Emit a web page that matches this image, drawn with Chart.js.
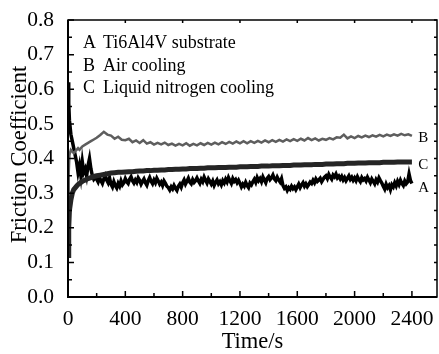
<!DOCTYPE html>
<html>
<head>
<meta charset="utf-8">
<script src="https://cdn.jsdelivr.net/npm/chart.js@4.4.1/dist/chart.umd.min.js"></script>
<style>
  html, body { margin: 0; padding: 0; background: #fff; }
  #wrap { width: 439px; height: 354px; position: relative; }
</style>
</head>
<body>
<div id="wrap"><canvas id="friction-chart" width="439" height="354"></canvas></div>
<script>
// sample times (s) for curves B and C
const time = [
  0, 5, 10, 20, 30, 40, 50, 60, 70, 80, 90, 100, 120, 140, 160, 180, 200,
  225, 250, 275, 300, 325, 350, 375, 400, 425, 450, 475, 500, 525, 550, 575, 600,
  625, 650, 675, 700, 725, 750, 775, 800, 825, 850, 875, 900, 925, 950, 975, 1000,
  1025, 1050, 1075, 1100, 1125, 1150, 1175, 1200, 1225, 1250, 1275, 1300, 1325, 1350, 1375, 1400,
  1425, 1450, 1475, 1500, 1525, 1550, 1575, 1600, 1625, 1650, 1675, 1700, 1725, 1750, 1775, 1800,
  1825, 1850, 1875, 1900, 1925, 1950, 1975, 2000, 2025, 2050, 2075, 2100, 2125, 2150, 2175, 2200,
  2225, 2250, 2275, 2300, 2325, 2350, 2375, 2400
];

// curve A is sampled finer: early points, then every 10 s from 200 s
const timeAStart = [0, 5, 10, 20, 30, 40, 50, 60, 70, 80, 90, 100, 110, 120, 130, 140, 150, 160, 170, 180, 190];
const substrateStart = [0.62, 0.56, 0.51, 0.47, 0.45, 0.43, 0.41, 0.39, 0.36, 0.38, 0.35, 0.39, 0.36, 0.37, 0.35, 0.38, 0.40, 0.37, 0.35, 0.34, 0.345];

// A  Ti6Al4V substrate, 200 s .. 2400 s, one row per 100 s
const substrate = [
  0.340, 0.332, 0.345, 0.336, 0.328, 0.341, 0.350, 0.338, 0.330, 0.344,
  0.326, 0.318, 0.333, 0.322, 0.315, 0.328, 0.320, 0.335, 0.324, 0.330,
  0.342, 0.333, 0.328, 0.340, 0.347, 0.336, 0.329, 0.338, 0.331, 0.344,
  0.337, 0.326, 0.334, 0.341, 0.330, 0.323, 0.336, 0.345, 0.334, 0.327,
  0.338, 0.330, 0.343, 0.335, 0.326, 0.332, 0.322, 0.335, 0.328, 0.320,
  0.316, 0.309, 0.318, 0.312, 0.322, 0.314, 0.308, 0.320, 0.326, 0.317,
  0.330, 0.338, 0.326, 0.334, 0.343, 0.332, 0.327, 0.339, 0.331, 0.336,
  0.344, 0.335, 0.328, 0.340, 0.333, 0.346, 0.337, 0.329, 0.341, 0.334,
  0.326, 0.335, 0.322, 0.331, 0.338, 0.327, 0.333, 0.324, 0.336, 0.329,
  0.340, 0.332, 0.345, 0.336, 0.328, 0.342, 0.334, 0.339, 0.330, 0.337,
  0.328, 0.318, 0.326, 0.320, 0.331, 0.322, 0.316, 0.329, 0.324, 0.333,
  0.340, 0.331, 0.345, 0.336, 0.342, 0.333, 0.347, 0.338, 0.330, 0.343,
  0.348, 0.339, 0.344, 0.352, 0.341, 0.336, 0.346, 0.338, 0.332, 0.342,
  0.322, 0.314, 0.318, 0.308, 0.316, 0.311, 0.320, 0.313, 0.318, 0.310,
  0.318, 0.326, 0.316, 0.324, 0.330, 0.320, 0.327, 0.319, 0.325, 0.332,
  0.328, 0.337, 0.330, 0.341, 0.334, 0.338, 0.343, 0.333, 0.340, 0.346,
  0.350, 0.342, 0.354, 0.346, 0.340, 0.352, 0.347, 0.355, 0.344, 0.349,
  0.341, 0.348, 0.338, 0.345, 0.336, 0.343, 0.350, 0.340, 0.346, 0.337,
  0.344, 0.336, 0.347, 0.339, 0.333, 0.345, 0.338, 0.342, 0.335, 0.346,
  0.338, 0.330, 0.341, 0.334, 0.327, 0.339, 0.332, 0.344, 0.336, 0.329,
  0.320, 0.312, 0.326, 0.316, 0.322, 0.310, 0.324, 0.318, 0.330, 0.321,
  0.334, 0.325, 0.337, 0.328, 0.322, 0.335, 0.327, 0.332, 0.355, 0.336,
  0.328
];

// B  Air cooling
const airCooling = [
  0.28, 0.36, 0.41, 0.425, 0.42, 0.415, 0.42, 0.425, 0.43, 0.425, 0.43, 0.435, 0.44, 0.445, 0.45, 0.455, 0.46,
  0.468, 0.477, 0.469, 0.466, 0.457, 0.463, 0.454, 0.453, 0.457, 0.447, 0.452, 0.445, 0.453, 0.443, 0.447, 0.440,
  0.445, 0.441, 0.446, 0.439, 0.443, 0.437, 0.442, 0.438, 0.444, 0.437, 0.442, 0.438, 0.444, 0.439, 0.445, 0.440,
  0.446, 0.441, 0.447, 0.442, 0.448, 0.443, 0.449, 0.444, 0.450, 0.444, 0.450, 0.445, 0.451, 0.446, 0.452, 0.447,
  0.453, 0.448, 0.454, 0.449, 0.455, 0.450, 0.456, 0.451, 0.457, 0.452, 0.459, 0.453, 0.458, 0.452, 0.457, 0.454,
  0.459, 0.455, 0.461, 0.460, 0.469, 0.458, 0.464, 0.459, 0.465, 0.461, 0.466, 0.462, 0.467, 0.463, 0.468, 0.464,
  0.469, 0.465, 0.470, 0.466, 0.471, 0.467, 0.470, 0.465
];

// C  Liquid nitrogen cooling
const ln2Cooling = [
  0.12, 0.20, 0.25, 0.28, 0.30, 0.31, 0.315, 0.32, 0.325, 0.328, 0.331, 0.334, 0.338, 0.342, 0.345, 0.348, 0.350,
  0.352, 0.354, 0.356, 0.358, 0.359, 0.360, 0.360, 0.361, 0.362, 0.362, 0.363, 0.364, 0.364, 0.365, 0.365, 0.366,
  0.366, 0.367, 0.367, 0.368, 0.368, 0.369, 0.369, 0.370, 0.370, 0.371, 0.371, 0.371, 0.372, 0.372, 0.373, 0.373,
  0.373, 0.374, 0.374, 0.374, 0.375, 0.375, 0.375, 0.376, 0.376, 0.376, 0.377, 0.377, 0.377, 0.378, 0.378, 0.378,
  0.379, 0.379, 0.379, 0.380, 0.380, 0.380, 0.381, 0.381, 0.381, 0.382, 0.382, 0.382, 0.383, 0.383, 0.383, 0.384,
  0.384, 0.384, 0.385, 0.385, 0.385, 0.386, 0.386, 0.386, 0.387, 0.387, 0.387, 0.388, 0.388, 0.388, 0.388, 0.389,
  0.389, 0.389, 0.389, 0.390, 0.390, 0.390, 0.390, 0.390
];

const legendLines = [['A', 'Ti6Al4V substrate'], ['B', 'Air cooling'], ['C', 'Liquid nitrogen cooling']];
const endLabels = ['A', 'B', 'C'];
const endLabelY = [0.315, 0.459, 0.381];
const xTicks = [0, 400, 800, 1200, 1600, 2000, 2400];

const FONT = '"Liberation Serif", "Times New Roman", serif';

const timeA = timeAStart.concat(Array.from({ length: substrate.length }, (_, i) => 200 + i * 10));
const valuesA = substrateStart.concat(substrate);

const decorations = {
  id: 'decorations',
  afterDraw(chart) {
    const { ctx, chartArea: a, scales: { x, y } } = chart;
    ctx.save();
    ctx.strokeStyle = '#000';
    // frame
    ctx.lineWidth = 1.5;
    ctx.strokeRect(a.left, a.top, a.right - a.left, a.bottom - a.top);
    ctx.lineWidth = 2;
    ctx.beginPath();
    ctx.moveTo(a.left, a.top);
    ctx.lineTo(a.left, a.bottom);
    ctx.lineTo(a.right, a.bottom);
    ctx.stroke();
    // inward ticks
    ctx.lineWidth = 1.5;
    ctx.beginPath();
    for (let v = 0; v <= 2400; v += 200) {
      const px = x.getPixelForValue(v);
      const len = v % 400 === 0 ? 6 : 4;
      ctx.moveTo(px, a.bottom);
      ctx.lineTo(px, a.bottom - len);
      if (v % 400 === 0) {
        ctx.moveTo(px, a.top);
        ctx.lineTo(px, a.top + 3);
      }
    }
    for (let k = 0; k <= 16; k++) {
      const py = y.getPixelForValue(k * 0.05);
      const len = k % 2 === 0 ? 6 : 4;
      ctx.moveTo(a.left, py);
      ctx.lineTo(a.left + len, py);
      ctx.moveTo(a.right, py);
      ctx.lineTo(a.right - 3, py);
    }
    ctx.stroke();

    // legend text
    ctx.fillStyle = '#000';
    ctx.font = '18px ' + FONT;
    ctx.textBaseline = 'alphabetic';
    ctx.textAlign = 'left';
    legendLines.forEach(([letter, label], i) => {
      const base = a.top + 28 + i * 22.5;
      ctx.fillText(letter, a.left + 15, base);
      ctx.fillText(label, a.left + 35, base);
    });

    // curve end labels
    ctx.font = '15px ' + FONT;
    ctx.textBaseline = 'middle';
    endLabels.forEach((l, i) => {
      ctx.fillText(l, x.getPixelForValue(2445), y.getPixelForValue(endLabelY[i]));
    });

    // axis titles
    ctx.font = '22.5px ' + FONT;
    ctx.textAlign = 'center';
    ctx.textBaseline = 'alphabetic';
    ctx.fillText('Time/s', (a.left + a.right) / 2, 348);
    ctx.save();
    ctx.translate(26, (a.top + a.bottom) / 2 - 4);
    ctx.rotate(-Math.PI / 2);
    ctx.fillText('Friction Coefficient', 0, 0);
    ctx.restore();
    ctx.restore();
  }
};

new Chart(document.getElementById('friction-chart').getContext('2d'), {
  type: 'line',
  data: {
    datasets: [
      { label: 'C', data: time.map((t, i) => ({ x: t, y: ln2Cooling[i] })), borderColor: '#252525', borderWidth: 5 },
      { label: 'B', data: time.map((t, i) => ({ x: t, y: airCooling[i] })), borderColor: '#5e5e5e', borderWidth: 2.5 },
      { label: 'A', data: timeA.map((t, i) => ({ x: t, y: valuesA[i] })), borderColor: '#000000', borderWidth: 3.5 },
    ]
  },
  options: {
    responsive: false,
    animation: false,
    devicePixelRatio: 1,
    elements: { point: { radius: 0 }, line: { tension: 0 } },
    layout: { padding: { top: 20, right: 2, left: 0, bottom: 0 } },
    plugins: { legend: { display: false }, tooltip: { enabled: false } },
    scales: {
      x: {
        type: 'linear',
        min: 0,
        max: 2575,
        afterBuildTicks: s => { s.ticks = xTicks.map(v => ({ value: v })); },
        afterFit: s => { s.height = 57; },
        grid: { display: false },
        border: { display: false },
        ticks: {
          color: '#000',
          font: { family: FONT, size: 21.5 },
          padding: 1,
          maxRotation: 0,
          autoSkip: false,
          callback: v => String(v),
        },
      },
      y: {
        min: 0,
        max: 0.8,
        afterFit: s => { s.width = 68; },
        grid: { display: false },
        border: { display: false },
        ticks: {
          stepSize: 0.1,
          color: '#000',
          padding: 6,
          font: { family: FONT, size: 21.5 },
          callback: v => v.toFixed(1),
        },
      }
    }
  },
  plugins: [decorations]
});
</script>
</body>
</html>
